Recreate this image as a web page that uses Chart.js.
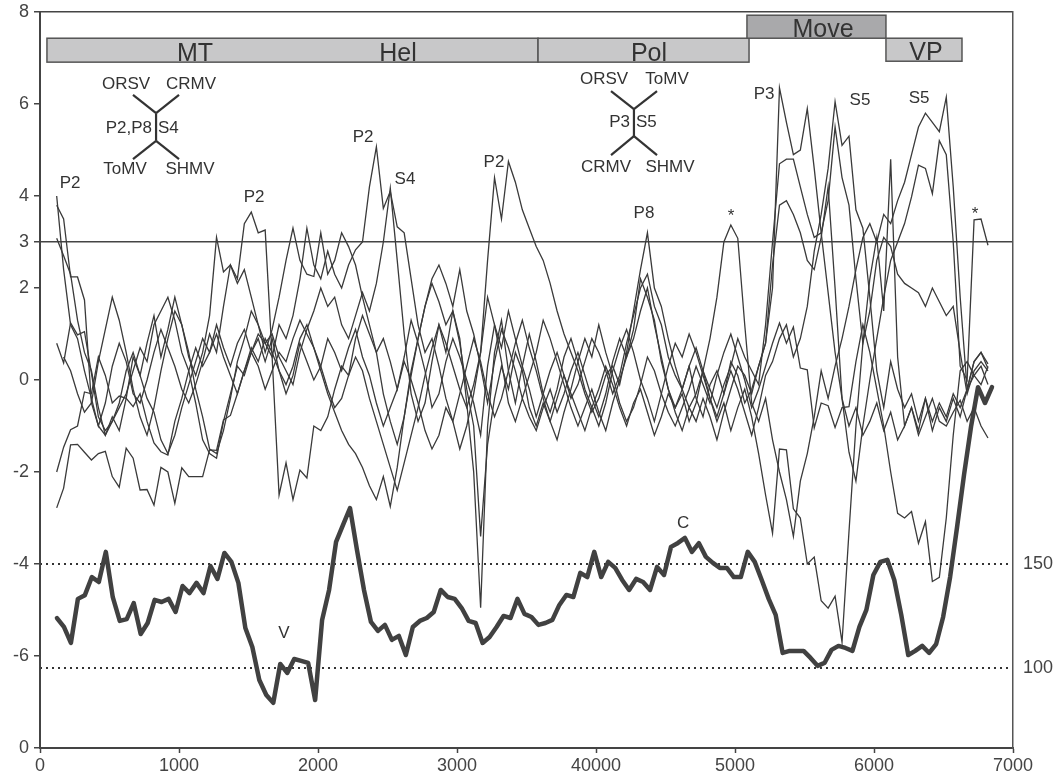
<!DOCTYPE html>
<html>
<head>
<meta charset="utf-8">
<script src="https://cdn.jsdelivr.net/npm/chart.js@4.4.0/dist/chart.umd.min.js"></script>
<style>
  html, body { margin: 0; padding: 0; background: #fff; }
</style>
</head>
<body>
<canvas id="chart" width="1056" height="774"></canvas>
<script>
// ----------------------- data -----------------------

const X_TICKS = [0, 1000, 2000, 3000, 4000, 5000, 6000, 7000];
const X_LABELS = ["0", "1000", "2000", "3000", "40000", "5000", "6000", "7000"];
const Y_TICKS = [8, 6, 4, 3, 2, 0, -2, -4, -6, -8];
const Y_LABELS = ["8", "6", "4", "3", "2", "0", "-2", "-4", "-6", "0"];
const Y2_TICKS = [150, 100];

// thin similarity traces, one value every 50 nt from 120
const THIN_START = 120;
const THIN_STEP = 50;

const trace1 = [
    4.0, 2.4, 1.2, 0.9, 0.2, -0.4, -1.0, -0.5, 0.3, 0.8, 0.4, -0.3, -0.5, 0.0, 0.6,
    1.1, 0.7, 0.3, -0.2, -0.5, -0.1, 0.4, 1.0, 0.6, 1.6, 2.5, 2.2, 3.4, 3.65, 3.2,
    3.26, 0.5, -2.5, -1.8, -2.6, -1.96, -2.13, -1.0, -1.1, -0.8, -0.2, 0.3, 0.1, 0.9, 1.4,
    1.0, 0.6, 0.9, 0.4, -0.2, 0.5, 1.3, 0.8, 0.2, -0.6, -0.3, 0.4, 0.9, 0.5, 0.0,
    -0.5, -1.2, 0.3, 1.2, 0.7, 1.5, 0.9, 0.3, -0.2, -0.8, -0.3, 0.2, 0.6, 0.1, -0.4,
    -0.1, 0.4, 0.9, 0.6, 0.2, -0.3, 0.1, 0.8, 1.4, 2.0, 2.3, 1.6, 1.2, 0.5, 0.1,
    -0.2, 0.3, -0.4, -0.8, -0.1, 0.2, -0.3, 0.4, 0.1, -0.5, -0.2, 0.3, 0.8, 2.0, 6.35,
    5.6, 4.9, 5.0, 5.9, 4.6, 3.2, 1.9, 0.6, -0.4, -1.0, -0.6, -1.2, -0.9, -0.5, -1.1,
    -0.7, -1.3, -1.0, -0.6, -1.1, -0.4, -0.9, -0.5, -0.8, -0.3, -0.6, -0.2, 0.1, -0.1, 0.3
];
const trace2 = [
    3.8, 3.5, 2.24, 2.24, 1.74, -0.5, -1.0, -1.2, -0.9, -0.6, -0.3, 0.2, 0.7, 0.4, 1.2,
    1.5, 1.8, 1.3, 0.6, 0.2, -0.5, -1.3, -1.6, -1.7, -0.9, -0.3, 0.3, 0.1, 0.6, 1.0,
    0.8, 0.5, 1.2, 0.9, 1.4, 2.2, 3.3, 2.5, 2.2, 2.8, 2.3, 2.0, 2.5, 2.83, 3.0,
    4.2, 5.07, 3.73, 4.1, 3.33, 3.2, 2.2, 1.2, 0.6, 0.9, 0.3, -0.4, -0.9, -1.5, -1.0,
    -0.3, 0.6, 1.8, 1.2, 0.4, -0.5, -0.9, -0.4, -0.8, -1.1, -0.6, -0.2, -0.7, -0.3, 0.2,
    0.6, 0.1, -0.4, -0.8, -0.3, 0.4, 0.9, 0.5, 1.1, 2.2, 1.8, 1.3, 0.4, -0.2, -0.6,
    -0.3, -0.9, -0.5, 0.2, -0.2, -0.6, -0.1, 0.3, 0.9, 0.5, 0.2, -0.1, 1.2, 3.0, 4.7,
    4.8, 4.8, 4.2, 3.6, 3.1, 3.2, 3.9, 5.5, 4.4, 3.8, 2.2, 0.8, 1.5, 2.6, 3.1,
    2.9, 2.3, 2.1, 2.0, 1.9, 1.6, 2.0, 1.7, 1.4, 1.6, 0.6, -0.3, 0.2, 0.4, 0.2
];
const trace3 = [
    3.08, 2.7, 2.3, 1.3, 0.6, 0.2, -0.6, -1.2, -0.8, -1.1, -0.4, 0.5, 0.1, 0.8, 1.4,
    0.5, 1.1, 1.8, 1.2, 0.6, -0.2, -0.8, -1.5, -1.6, -1.1, -0.4, 0.4, 0.9, 1.5, 1.2,
    0.8, 1.0, 0.5, 0.2, -0.1, 0.6, 1.1, 1.5, 2.0, 1.6, 1.8, 1.2, 0.9, 1.4, 1.9,
    1.5, 2.1, 3.0, 4.17, 2.6, 1.0, -0.3, -0.9, -0.5, 0.4, 1.2, 0.6, 1.5, 0.9, -0.5,
    -2.0, -4.95, -1.0, 0.6, 1.3, 0.2, -0.5, 0.3, 1.0, 0.4, -0.3, -0.7, -0.2, 0.5, 0.9,
    0.4, -0.2, -0.6, -1.0, -0.5, 0.2, 0.7, 1.1, 0.6, 0.0, -0.4, -0.9, -0.3, 0.3, 0.8,
    0.5, 1.0, 0.6, 0.1, -0.4, -0.8, -0.3, 0.2, -0.2, -0.7, -1.2, -0.6, 0.1, 0.4, 0.9,
    1.2, 0.5, 0.9, 1.6, 2.8, 3.6, 4.6, 6.05, 5.1, 5.3, 3.7, 3.3, 1.8, 0.2, -0.6,
    0.4, -0.2, -0.6, -0.3, -0.9, -0.4, -1.1, -0.6, -0.9, -0.4, -0.8, -0.2, 0.4, 0.6, 0.35
];
const trace4 = [
    0.8, 0.37, 1.24, 0.98, 1.05, 0.15, -0.8, -1.1, -0.9, -0.5, 0.2, 0.6, 0.1, -0.4, -0.7,
    -1.3, -1.6, -1.2, -0.6, -0.1, 0.4, 0.9, 0.6, 1.2, 0.7, 0.3, 0.8, 1.1, 0.6, 0.3,
    -0.2, 0.2, 0.6, 0.4, 0.9, 1.3, 1.0, 0.7, 0.3, -0.2, -0.6, -0.4, 0.1, 0.5, 0.2,
    -0.4, -0.9, -1.4, -1.9, -2.4, -1.8, -1.2, -0.6, 0.1, 0.7, 1.2, 0.8, 0.3, -0.2, -0.6,
    -0.1, 0.6, 2.6, 4.4, 3.5, 4.75, 4.3, 3.7, 3.3, 2.9, 2.6, 2.1, 1.5, 1.0, 0.6,
    0.2, -0.3, -0.7, -0.4, 0.1, 0.3, -0.1, 0.6, 1.5, 2.4, 3.2, 2.0, 1.6, 0.9, 0.3,
    -0.2, -0.6, -0.3, 0.2, 0.9, 1.8, 3.0, 3.37, 3.08, 1.2, -0.5, -0.9, -0.4, -1.3, -2.0,
    -2.6, -3.4, -2.2, -1.6, -0.8, 0.2, -0.4, 0.3, 0.9, 1.6, 2.4, 3.1, 3.4, 3.0, 3.6,
    3.4, 3.9, 4.3, 4.9, 5.5, 5.8, 5.6, 5.4, 6.15, 4.2, 1.8, -0.2, 0.4, 0.6, 0.25
];
const trace5 = [
    -2.0, -1.46, -1.08, -1.0, -0.26, -0.3, 0.5, 0.1, -0.5, -0.35, -0.4, -0.58, -0.3, -0.9, -1.37,
    -1.56, -1.63, -0.9, -0.4, 0.2, 0.7, 0.3, 0.6, 1.0, 0.5, 0.1, -0.3, 0.2, 0.7, 0.4,
    0.9, 0.6, 0.2, -0.1, 0.3, 0.9, 1.2, 0.7, 0.2, -0.3, -0.7, -1.1, -1.4, -1.6, -1.9,
    -2.3, -2.6, -2.1, -2.75, -1.9, -0.8, 0.2, 0.9, 1.6, 2.1, 1.7, 1.2, 1.5, 0.8, -0.2,
    -1.0, -3.4, -1.4, -0.4, 0.3, -0.2, 0.6, 0.2, -0.6, -1.0, -0.5, -0.9, -0.4, 0.1, -0.3,
    -0.7, -1.1, -0.6, -0.2, 0.3, -0.1, -0.6, -1.0, -0.5, -0.2, -0.7, -1.2, -0.8, -0.3, -0.6,
    -0.2, 0.3, 0.7, 0.2, -0.4, -0.9, -0.5, -1.1, -0.6, -0.2, -0.8, -1.6, -2.5, -3.33, -1.5,
    -1.52, -2.8, -3.0, -4.0, -3.85, -4.8, -4.96, -4.7, -5.7, -3.3, -1.0, 0.8, 2.2, 3.1, 1.5,
    4.8, 0.5, -1.0, -0.6, -1.2, -0.8, -0.4, -0.9, -1.0, -0.7, -0.44, -0.9, -0.6, -1.0, -1.26
];
const trace6 = [
    -2.78, -2.35, -1.41, -1.4, -1.57, -1.74, -1.6, -1.55, -2.1, -2.33, -1.48, -1.7, -2.39, -2.38, -2.72,
    -1.9, -2.0, -2.68, -1.91, -2.1, -2.1, -2.1, -1.52, -1.53, -0.87, -0.77, -0.3, 0.2, 0.6, 0.9,
    0.4, 0.9, 0.2, -0.3, 0.1, 0.8, 0.4, 0.0, 0.3, 0.9, 0.6, 0.2, 0.7, 1.1, 0.5,
    0.1, -0.5, -1.0, -0.6, -0.2, 0.4, 0.0, -0.5, -1.1, -1.5, -1.2, -0.6, -0.9, -0.3, 0.3,
    0.9, 0.4, -0.3, -0.8, -0.4, 0.2, 0.8, 1.3, 0.7, 0.2, -0.4, -0.9, -1.3, -0.7, -0.2,
    0.4, 0.9, 0.5, 1.2, 0.6, 0.1, -0.5, -0.9, -0.6, -0.1, 0.5, 0.2, -0.3, -0.7, -1.0,
    -0.6, -0.2, 0.3, -0.1, -0.5, 0.1, 0.6, 1.0, 0.5, 0.0, -0.6, -0.2, 0.3, 0.8, 1.24,
    0.8, 1.15, 0.26, 0.22, -1.04, -0.5, -0.56, -1.03, -0.6, -0.58, 0.4, 1.2, 0.6, -0.2, -1.0,
    -2.0, -2.9, -3.0, -2.86, -3.55, -3.08, -4.38, -4.29, -3.0, -1.2, 0.2, 0.4, 0.1, 0.3, -0.1
];
const trace7 = [
    null, 0.5, 0.2, -0.3, -0.7, -0.5, 0.4, 1.1, 1.8, 1.3, 0.6, -0.2, -0.8, -1.2, -0.6,
    0.2, 0.9, 1.5, 1.2, 0.5, 0.1, 0.6, 1.4, 3.1, 2.35, 2.5, 2.1, 2.4, 1.8, 1.2,
    0.6, 1.1, 1.8, 2.6, 3.3, 2.6, 2.3, 2.25, 3.2, 2.3, 2.6, 3.2, 2.9, 2.5, 1.8,
    1.2, 0.6, -0.3, -0.9, -1.4, -0.8, 0.1, 0.9, 1.6, 2.2, 2.5, 2.1, 1.6, 2.4, 1.5,
    1.0, 0.3, -0.5, 0.4, 1.1, 0.7, 0.2, -0.4, 0.1, 0.6, 1.3, 0.9, 0.4, -0.1, -0.6,
    -1.0, -0.6, -0.2, -0.7, -1.1, -0.5, 0.0, 0.5, 0.9, 1.5, 2.0, 1.2, 0.5, -0.2, -0.7,
    -1.1, -0.6, -0.9, -0.4, -0.8, -1.3, -0.7, -0.2, 0.3, 0.1, -0.3, 0.3, 0.8, 2.5, 3.8,
    3.9, 3.6, 3.2, 2.6, 2.4, 3.1, 4.2, 2.0, -0.4, -1.57, -2.2, -1.0, 0.0, 0.9, 1.8,
    2.6, 3.0, 3.4, 3.98, 4.67, 4.6, 4.05, 5.2, 4.9, 3.0, 0.3, 0.0, 3.48, 3.5, 2.93
];
const THIN_TRACES = [trace1, trace2, trace3, trace4, trace5, trace6, trace7];

// thick trace, read against the right axis
const THICK_START = 122;
const THICK_STEP = 50.2;
const thickTrace = [
    124, 119.7, 112, 133.2, 135, 143.7, 141.3, 155.8, 134, 122.6, 123.5, 131.2, 116.3, 121.6, 132.7,
    131.7, 133.2, 126.9, 139.4, 136, 140.9, 136, 149, 142.8, 155.3, 151, 140.9, 119.2, 110.1, 94.2,
    87, 83.2, 101.9, 97.6, 104.3, 103.4, 102.4, 84.6, 123.1, 137.5, 160.6, 168.8, 176.9, 156.7, 137.5,
    122.1, 117.8, 120.7, 113.5, 115.4, 106.2, 119.7, 122.6, 124, 126.9, 137.5, 134.1, 133.2, 128.8, 122.6,
    121.6, 112, 114.9, 119.7, 125, 124, 133.2, 126, 124.5, 120.7, 121.6, 123.1, 130.3, 135.1, 134.1,
    145.7, 143.7, 155.8, 143.7, 151, 148.1, 142.3, 137.5, 142.8, 141.3, 137.5, 148.6, 144.7, 158.2, 160.1,
    162.5, 155.8, 160, 153.4, 150.5, 148.1, 148.1, 143.7, 143.7, 155.8, 151, 142.3, 133.2, 125.5, 107.2,
    108.2, 108.2, 108.2, 104.8, 101, 102.4, 108.7, 110.6, 109.6, 108.2, 119.7, 127.9, 144.7, 151, 152,
    142.3, 125.5, 106.2, 108.2, 110.6, 107.2, 111.5, 124.5, 143.7, 167.8, 193, 216, 235, 227.4, 235
];

// genome map boxes (x in nt, y in left-axis units)
const GENE_BOXES = [
    { x0: 50,   x1: 3583, top: 7.43, bottom: 6.91, fill: "#c8c8c9" },
    { x0: 3583, x1: 5101, top: 7.43, bottom: 6.91, fill: "#c8c8c9" },
    { x0: 5086, x1: 6086, top: 7.93, bottom: 7.43, fill: "#a9a9ab" },
    { x0: 6086, x1: 6633, top: 7.43, bottom: 6.93, fill: "#c8c8c9" }
];
const GENE_LABELS = [
    { t: "MT", x: 1115, y: 6.93 },
    { t: "Hel", x: 2576, y: 6.93 },
    { t: "Pol", x: 4381, y: 6.93 },
    { t: "Move", x: 5633, y: 7.46 },
    { t: "VP", x: 6374, y: 6.96 }
];

const PEAK_LABELS = [
    { t: "P2", x: 216, y: 4.28 },
    { t: "P2", x: 1540, y: 3.98 },
    { t: "P2", x: 2324, y: 5.28 },
    { t: "S4", x: 2626, y: 4.37 },
    { t: "P2", x: 3266, y: 4.74 },
    { t: "P8", x: 4345, y: 3.63 },
    { t: "*", x: 4971, y: 3.55 },
    { t: "P3", x: 5209, y: 6.22 },
    { t: "S5", x: 5899, y: 6.07 },
    { t: "S5", x: 6324, y: 6.13 },
    { t: "*", x: 6727, y: 3.6 },
    { t: "V", x: 1755, y: -5.5 },
    { t: "C", x: 4626, y: -3.11 }
];

// the two little trees
const TREE_SEGMENTS = [
    [669, 6.20, 835, 5.80], [1000, 6.20, 835, 5.80], [835, 5.80, 835, 5.20],
    [835, 5.20, 669, 4.80], [835, 5.20, 1000, 4.80],
    [4108, 6.28, 4273, 5.89], [4439, 6.28, 4273, 5.89], [4273, 5.89, 4273, 5.30],
    [4273, 5.30, 4108, 4.89], [4273, 5.30, 4439, 4.89]
];
const TREE_LABELS = [
    { t: "ORSV", x: 619, y: 6.43, a: "center" },
    { t: "CRMV", x: 1086, y: 6.43, a: "center" },
    { t: "P2,P8", x: 806, y: 5.48, a: "right" },
    { t: "S4", x: 849, y: 5.48, a: "left" },
    { t: "ToMV", x: 612, y: 4.57, a: "center" },
    { t: "SHMV", x: 1079, y: 4.57, a: "center" },
    { t: "ORSV", x: 4058, y: 6.54, a: "center" },
    { t: "ToMV", x: 4511, y: 6.54, a: "center" },
    { t: "P3", x: 4245, y: 5.61, a: "right" },
    { t: "S5", x: 4288, y: 5.61, a: "left" },
    { t: "CRMV", x: 4072, y: 4.63, a: "center" },
    { t: "SHMV", x: 4532, y: 4.63, a: "center" }
];

// ----------------------- helpers -----------------------

const FONT = '"Liberation Sans", Arial, sans-serif';
const INK = "#333";

function toPoints(values, start, step) {
    return values.map((v, i) => ({ x: start + i * step, y: v }));
}

// keep the plot box exactly where the axes say, no label overflow padding
function noOverflow(scale) {
    scale.paddingTop = 0;
    scale.paddingBottom = 0;
    scale.paddingLeft = 0;
    scale.paddingRight = 0;
}

const annotations = {
    id: "annotations",
    afterDatasetsDraw(chart) {
        const { ctx } = chart;
        const sx = chart.scales.x;
        const sy = chart.scales.y;
        const px = v => sx.getPixelForValue(v);
        const py = v => sy.getPixelForValue(v);

        ctx.save();

        // genome boxes
        ctx.lineWidth = 1.5;
        ctx.strokeStyle = "#555";
        GENE_BOXES.forEach(b => {
            const x1 = px(b.x0), x2 = px(b.x1), y1 = py(b.top), y2 = py(b.bottom);
            ctx.fillStyle = b.fill;
            ctx.fillRect(x1, y1, x2 - x1, y2 - y1);
            ctx.strokeRect(x1, y1, x2 - x1, y2 - y1);
        });

        ctx.fillStyle = INK;
        ctx.textAlign = "center";
        ctx.textBaseline = "alphabetic";
        ctx.font = "25px " + FONT;
        GENE_LABELS.forEach(l => ctx.fillText(l.t, px(l.x), py(l.y)));

        // peak labels
        ctx.font = "17px " + FONT;
        ctx.textBaseline = "middle";
        PEAK_LABELS.forEach(l => ctx.fillText(l.t, px(l.x), py(l.y)));

        // trees
        ctx.strokeStyle = INK;
        ctx.lineWidth = 2.2;
        TREE_SEGMENTS.forEach(s => {
            ctx.beginPath();
            ctx.moveTo(px(s[0]), py(s[1]));
            ctx.lineTo(px(s[2]), py(s[3]));
            ctx.stroke();
        });
        TREE_LABELS.forEach(l => {
            ctx.textAlign = l.a;
            ctx.fillText(l.t, px(l.x), py(l.y));
        });

        ctx.restore();
    }
};

// ----------------------- chart -----------------------

Chart.defaults.font.family = FONT;
Chart.defaults.color = "#444";

const datasets = THIN_TRACES.map(t => ({
    data: toPoints(t, THIN_START, THIN_STEP),
    borderColor: "#3a3a3a",
    borderWidth: 1.3,
    yAxisID: "y"
}));
datasets.push({
    data: toPoints(thickTrace, THICK_START, THICK_STEP),
    borderColor: "#414141",
    borderWidth: 4.5,
    borderJoinStyle: "round",
    borderCapStyle: "round",
    yAxisID: "y2"
});

new Chart(document.getElementById("chart"), {
    type: "line",
    data: { datasets: datasets },
    options: {
        responsive: false,
        animation: false,
        layout: { padding: { top: 12, left: 0, right: 0, bottom: 0 } },
        plugins: { legend: { display: false }, tooltip: { enabled: false } },
        elements: { point: { radius: 0 }, line: { tension: 0 } },
        scales: {
            x: {
                type: "linear",
                min: 0,
                max: 7000,
                afterBuildTicks: s => { s.ticks = X_TICKS.map(v => ({ value: v })); },
                ticks: {
                    callback: v => X_LABELS[X_TICKS.indexOf(v)],
                    font: { size: 18 },
                    padding: 2,
                    maxRotation: 0,
                    autoSkip: false
                },
                grid: { drawOnChartArea: false, tickLength: 5, tickColor: "#444", tickWidth: 1.5 },
                border: { color: "#444", width: 2 },
                afterFit: s => { s.height = 26; noOverflow(s); }
            },
            y: {
                type: "linear",
                min: -8,
                max: 8,
                afterBuildTicks: s => { s.ticks = Y_TICKS.map(v => ({ value: v })); },
                ticks: {
                    callback: v => Y_LABELS[Y_TICKS.indexOf(v)],
                    font: { size: 18 },
                    padding: 5
                },
                grid: {
                    color: c => (c.tick && (c.tick.value === 3 || c.tick.value === 8)) ? "#444" : "rgba(0,0,0,0)",
                    lineWidth: 1.5,
                    tickColor: "#444",
                    tickLength: 6
                },
                border: { color: "#444", width: 2 },
                afterFit: s => { s.width = 40; noOverflow(s); }
            },
            y2: {
                type: "linear",
                position: "right",
                min: 61.5,
                max: 415.4,
                afterBuildTicks: s => { s.ticks = Y2_TICKS.map(v => ({ value: v })); },
                ticks: { font: { size: 18 }, padding: 10 },
                grid: { drawOnChartArea: true, drawTicks: false, color: "#333", lineWidth: 2 },
                border: { display: true, color: "#555", width: 1.5, dash: [2, 4] },
                afterFit: s => { s.width = 43; noOverflow(s); }
            }
        }
    },
    plugins: [annotations]
});
</script>
</body>
</html>
